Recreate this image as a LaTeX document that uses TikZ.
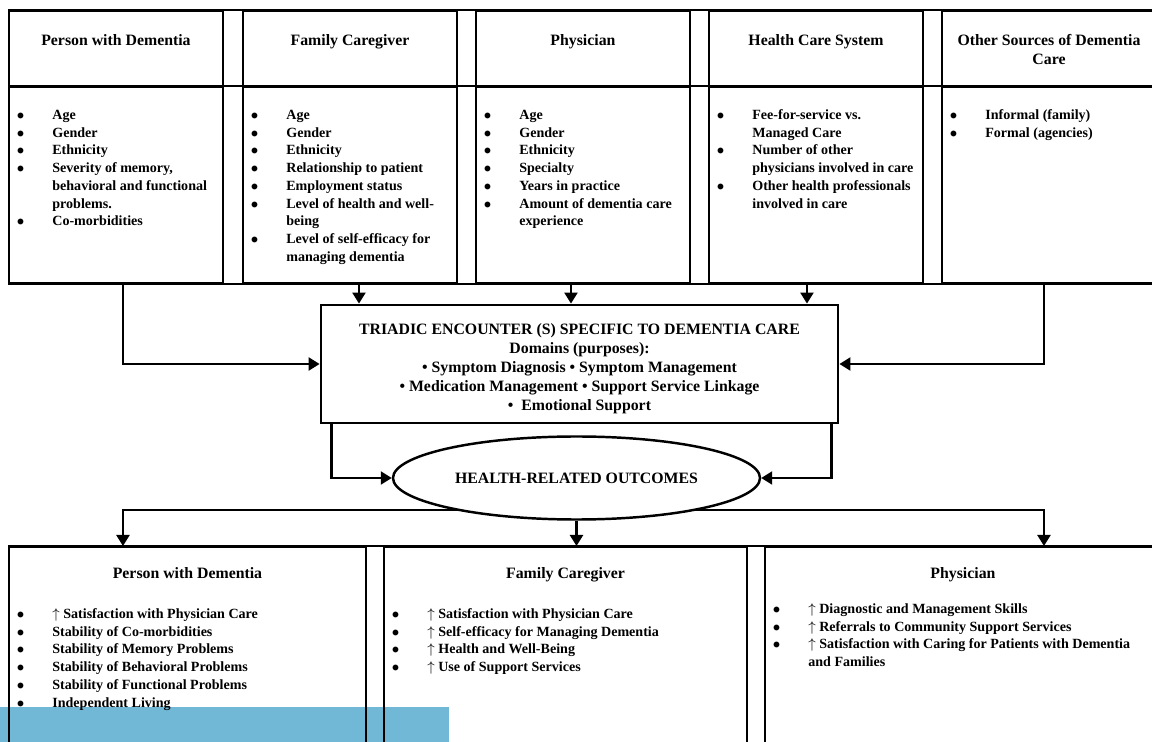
\documentclass[tikz,border=0pt]{standalone}
\usepackage{fontspec}
\setmainfont{Liberation Serif}
\usepackage{xcolor}
\usetikzlibrary{positioning,arrows.meta,shapes.geometric,backgrounds,calc}
\definecolor{bandblue}{RGB}{112,184,214}
\newenvironment{blist}{\begin{tabular}{@{}p{7.1mm}@{}l@{}}}{\end{tabular}}
\newcommand{\gain}{$\uparrow$\ }

\begin{document}
\begin{tikzpicture}[x=0.2mm, y=-0.2mm,
  rule/.style={line width=1.1pt},
  headcell/.style={rule, draw, anchor=north west, inner sep=0pt,
                   minimum width=42.8mm, minimum height=15.2mm},
  bodycell/.style={headcell, minimum height=39.2mm},
  headtext/.style={font=\fontsize{9}{10.4}\selectfont\bfseries, align=center,
                   anchor=north, inner sep=0pt},
  list/.style={font=\fontsize{8}{10.1}\selectfont\bfseries, anchor=north west,
               inner sep=0pt},
  encounter/.style={draw, line width=1.6pt, minimum width=103.4mm,
                    minimum height=23.6mm, inner sep=0pt},
  enctext/.style={align=center, inner sep=0pt,
                  font=\fontsize{9}{10.8}\selectfont\bfseries},
  outcome/.style={ellipse, draw, line width=1.4pt, fill=white, inner sep=0pt,
                  minimum width=73.4mm, minimum height=16.6mm,
                  font=\fontsize{9}{10.8}\selectfont\bfseries},
  arrow/.style={line width=1.3pt, -{Triangle[length=2.2mm,width=2.6mm]}},
]
\useasboundingbox (0,0) rectangle (1152,742);

% factors
\foreach \n/\x in {pwd/8, fam/242, phy/475, hcs/708, oth/941}{
  \node[headcell] (\n-h) at (\x,10) {};
  \node[bodycell] (\n) at (\x,86) {};
}
\draw[rule] (pwd-h.north west) -- (oth-h.north east);
\draw[rule] (pwd.north west) -- (oth.north east);
\draw[rule] (pwd.south west) -- (oth.south east);

\node[headtext] (pwdt) at ([yshift=-4.9mm]pwd-h.north) {Person with Dementia};
\node[headtext] (famt) at ([yshift=-4.9mm]fam-h.north) {Family Caregiver};
\node[headtext] (phyt) at ([yshift=-4.9mm]phy-h.north) {Physician};
\node[headtext] (hcst) at ([yshift=-4.9mm]hcs-h.north) {Health Care System};
\node[headtext] (otht) at ([yshift=-4.9mm]oth-h.north) {Other Sources of Dementia\\Care};

\node[list] (pwdl) at ([xshift=1.7mm,yshift=-4.1mm]pwd.north west) {\begin{blist}
  $\bullet$ & Age\\
  $\bullet$ & Gender\\
  $\bullet$ & Ethnicity\\
  $\bullet$ & Severity of memory,\\
            & behavioral and functional\\
            & problems.\\
  $\bullet$ & Co-morbidities
\end{blist}};
\node[list] (faml) at ([xshift=1.7mm,yshift=-4.1mm]fam.north west) {\begin{blist}
  $\bullet$ & Age\\
  $\bullet$ & Gender\\
  $\bullet$ & Ethnicity\\
  $\bullet$ & Relationship to patient\\
  $\bullet$ & Employment status\\
  $\bullet$ & Level of health and well-\\
            & being\\
  $\bullet$ & Level of self-efficacy for\\
            & managing dementia
\end{blist}};
\node[list] (phyl) at ([xshift=1.7mm,yshift=-4.1mm]phy.north west) {\begin{blist}
  $\bullet$ & Age\\
  $\bullet$ & Gender\\
  $\bullet$ & Ethnicity\\
  $\bullet$ & Specialty\\
  $\bullet$ & Years in practice\\
  $\bullet$ & Amount of dementia care\\
            & experience
\end{blist}};
\node[list] (hcsl) at ([xshift=1.7mm,yshift=-4.1mm]hcs.north west) {\begin{blist}
  $\bullet$ & Fee-for-service vs.\\
            & Managed Care\\
  $\bullet$ & Number of other\\
            & physicians involved in care\\
  $\bullet$ & Other health professionals\\
            & involved in care
\end{blist}};
\node[list] (othl) at ([xshift=1.7mm,yshift=-4.1mm]oth.north west) {\begin{blist}
  $\bullet$ & Informal (family)\\
  $\bullet$ & Formal (agencies)
\end{blist}};

% encounter and outcomes
\node[encounter] (enc) at (579.5,364) {};
\node[enctext] (enct) at ($(enc.center)+(0,5)$)
  {TRIADIC ENCOUNTER (S) SPECIFIC TO DEMENTIA CARE\\
   Domains (purposes):\\
   \textbullet{} Symptom Diagnosis \textbullet{} Symptom Management\\
   \textbullet{} Medication Management \textbullet{} Support Service Linkage\\
   \textbullet{}\ \ Emotional Support};
\node[outcome] (out) at (576.5,478) {HEALTH-RELATED OUTCOMES};

\draw[arrow] ($(pwd.south)+(7,0)$) |- (enc.west);
\draw[arrow] ($(fam.south)+(9,0)$) -- ($(fam.south |- enc.north)+(9,0)$);
\draw[arrow] ($(phy.south)+(-12,0)$) -- ($(phy.south |- enc.north)+(-12,0)$);
\draw[arrow] ($(hcs.south)+(-9,0)$) -- ($(hcs.south |- enc.north)+(-9,0)$);
\draw[arrow] ($(oth.south)+(-5,0)$) |- (enc.east);
\draw[arrow] ($(enc.south west)+(12,0)$) |- (out.west);
\draw[arrow] ($(enc.south east)+(-8,0)$) |- (out.east);

% outcome groups
\node[headcell, minimum width=71.4mm, minimum height=40mm] (pwdo) at (8,546) {};
\node[headcell, minimum width=72.6mm, minimum height=40mm] (famo) at (383,546) {};
\node[headcell, minimum width=79.2mm, minimum height=40mm] (phyo) at (764,546) {};
\draw[rule] (pwdo.north west) -- (phyo.north east);

\node[headtext] (pwdot) at ([yshift=-4.3mm]pwdo.north) {Person with Dementia};
\node[headtext] (famot) at ([yshift=-4.3mm]famo.north) {Family Caregiver};
\node[headtext] (phyot) at ([yshift=-4.3mm]phyo.north) {Physician};

\node[list] (pwdol) at ([xshift=1.7mm,yshift=-11.9mm]pwdo.north west) {\begin{blist}
  $\bullet$ & \gain Satisfaction with Physician Care\\
  $\bullet$ & Stability of Co-morbidities\\
  $\bullet$ & Stability of Memory Problems\\
  $\bullet$ & Stability of Behavioral Problems\\
  $\bullet$ & Stability of Functional Problems\\
  $\bullet$ & Independent Living
\end{blist}};
\node[list] (famol) at ([xshift=1.7mm,yshift=-11.9mm]famo.north west) {\begin{blist}
  $\bullet$ & \gain Satisfaction with Physician Care\\
  $\bullet$ & \gain Self-efficacy for Managing Dementia\\
  $\bullet$ & \gain Health and Well-Being\\
  $\bullet$ & \gain Use of Support Services
\end{blist}};
\node[list] (phyol) at ([xshift=1.7mm,yshift=-10.9mm]phyo.north west) {\begin{blist}
  $\bullet$ & \gain Diagnostic and Management Skills\\
  $\bullet$ & \gain Referrals to Community Support Services\\
  $\bullet$ & \gain Satisfaction with Caring for Patients with Dementia\\
            & and Families
\end{blist}};

\draw[arrow] (out.south) -- (out.south |- famo.north);
\begin{scope}[on background layer]
  \fill[bandblue] (0,707) rectangle (449,742);
  \coordinate (fork) at ($(out.south)+(0,-11)$);
  \draw[arrow] (fork) -| ($(pwdo.north)+(-64.5,0)$);
  \draw[arrow] (fork) -| ($(phyo.north)+(81,0)$);
\end{scope}

\end{tikzpicture}
\end{document}
